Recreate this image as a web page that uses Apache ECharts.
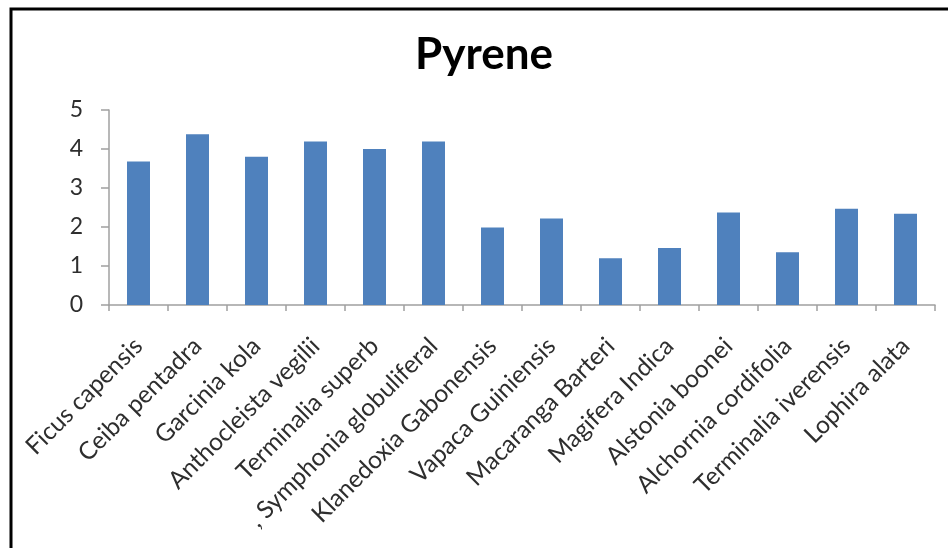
<!DOCTYPE html>
<html>
<head>
<meta charset="utf-8">
<script src="https://cdn.jsdelivr.net/npm/echarts@6/dist/echarts.min.js"></script>
<style>
  html, body { margin: 0; padding: 0; background: #fff; }
  #chart { width: 948px; height: 548px; }
</style>
</head>
<body>
<div id="chart"></div>
<script>
// Plant species sampled
const species = [
  'Ficus capensis', 'Ceiba pentadra', 'Garcinia kola', 'Anthocleista vegilii',
  'Terminalia superb', ', Symphonia globuliferal', 'Klanedoxia Gabonensis',
  'Vapaca Guiniensis', 'Macaranga Barteri', 'Magifera Indica', 'Alstonia boonei',
  'Alchornia cordifolia', 'Terminalia iverensis', 'Lophira alata'
];
// Pyrene concentration per species
const pyrene = [3.68, 4.38, 3.8, 4.19, 4.0, 4.19, 1.99, 2.22, 1.2, 1.46, 2.37, 1.35, 2.47, 2.34];
// Value axis ticks
const yTicks = [0, 1, 2, 3, 4, 5];

const chart = echarts.init(document.getElementById('chart'), null, { renderer: 'canvas' });
const axisGrey = '#a0a0a0';
const labelFont = 'Lato, "Open Sans", sans-serif';
const labelColor = '#2e2e2e';

chart.setOption({
  animation: false,
  backgroundColor: '#fff',
  title: {
    text: 'Pyrene',
    left: 410,
    top: 28,
    textStyle: { fontFamily: labelFont, fontWeight: 'bold', fontSize: 44, color: '#000' }
  },
  graphic: [{
    type: 'rect',
    shape: { x: 11, y: 9, width: 1000, height: 1000 },
    style: { fill: 'none', stroke: '#000', lineWidth: 3 },
    silent: true
  }],
  grid: { left: 109, right: 13, top: 110, bottom: 243, containLabel: false },
  xAxis: {
    type: 'category',
    data: species,
    boundaryGap: true,
    axisLine: { lineStyle: { color: axisGrey, width: 1.5 } },
    axisTick: { show: true, interval: 0, length: 6, lineStyle: { color: axisGrey, width: 1.5 } },
    axisLabel: {
      interval: 0,
      rotate: 45,
      margin: 37,
      padding: [9, 0, 0, 0],
      fontFamily: labelFont,
      fontSize: 24.5,
      color: labelColor
    },
    splitLine: { show: false }
  },
  yAxis: {
    type: 'value',
    min: yTicks[0],
    max: yTicks[yTicks.length - 1],
    interval: 1,
    axisLine: { show: true, lineStyle: { color: axisGrey, width: 1.5 } },
    axisTick: { show: true, length: 8, lineStyle: { color: axisGrey, width: 1.5 } },
    axisLabel: {
      margin: 26,
      fontFamily: labelFont,
      fontSize: 23,
      color: labelColor,
      formatter: v => (yTicks.includes(v) ? String(v) : '')
    },
    splitLine: { show: false }
  },
  series: [{
    type: 'bar',
    data: pyrene,
    barWidth: 23,
    itemStyle: { color: '#4f81bd' }
  }]
});
</script>
</body>
</html>
